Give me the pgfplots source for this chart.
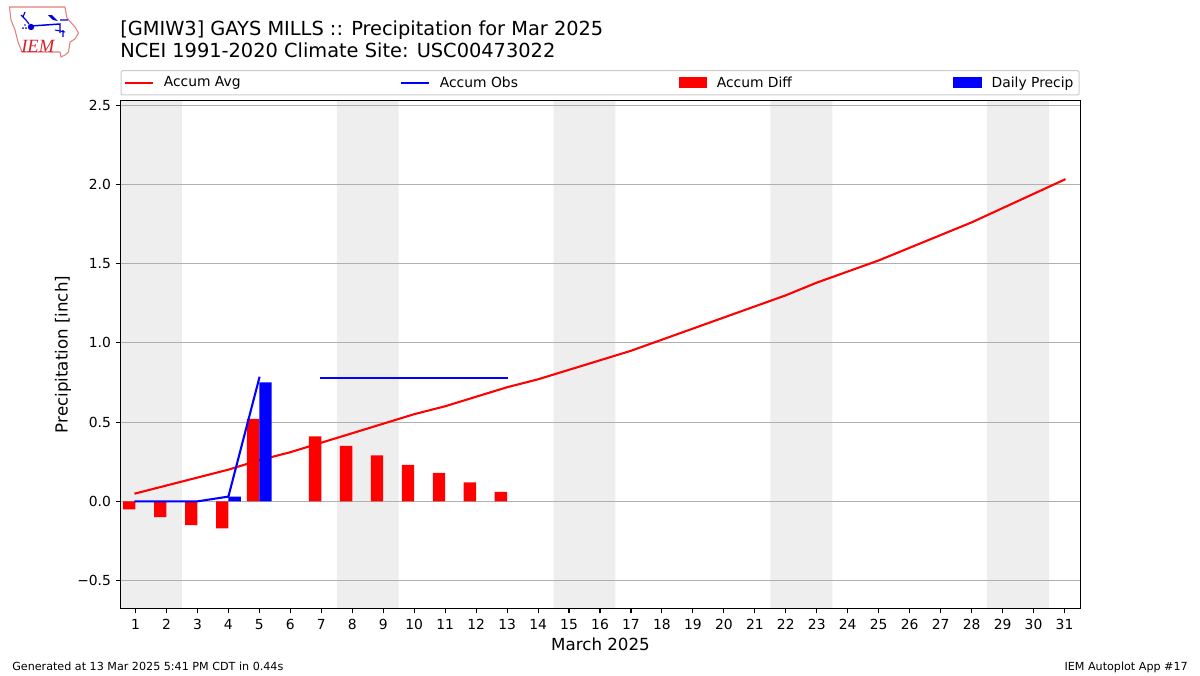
\documentclass[border=0pt]{standalone}
\usepackage{fontspec}
\setmainfont{DejaVu Sans}
\usepackage{pgfplots}
\pgfplotsset{compat=1.18}
\definecolor{band}{HTML}{EEEEEE}
\definecolor{gridc}{HTML}{B0B0B0}
\definecolor{legc}{HTML}{CCCCCC}
\definecolor{logor}{HTML}{E57F7F}
\definecolor{logot}{HTML}{D5222A}
\newcommand{\fs}[1]{\fontsize{#1}{#1}\selectfont}
\begin{document}
\begin{tikzpicture}
% inside this scope one unit = one pixel of the reference
\begin{scope}[x=0.75pt,y=-0.75pt]
\useasboundingbox (0,0) rectangle (1200,675);
% IEM logo
\draw[logor,line width=0.8pt,fill=white] (9.5,7)--(65,7)--(67,18)--(75,27)--(78.5,33)--(75,39)--(70,42)--(68.5,52)--(65,55)--(61,57)--(60,52)--(22,52)--(18,42)--(15,30)--(11,20)--cycle;
\fill[blue!85!black] (31,27) circle[radius=3.2];
\draw[blue!85!black,line width=1.1pt] (31,26)--(60,24)--(60,33);
\draw[blue!85!black,line width=0.9pt] (21,15)--(26,20)--(29,24) (25,12)--(23,17);
\fill[blue!85!black] (48,15)--(52,15)--(58,21)--(53,20)--cycle;
\draw[blue!85!black,line width=0.8pt] (60,20)--(68,20) (55,30)--(65,32) (63,30)--(63,37);
\fill[blue!85!black] (23,28) circle[radius=1] (26,28) circle[radius=1] (25,25) circle[radius=0.9];
\node[anchor=base west,inner sep=0pt,text=logot] at (21,52) {\fontspec{Liberation Serif}\fs{14}\itshape IEM};
% titles
\node[anchor=base west,inner sep=0pt] at (120,35) {\fs{14.53}[GMIW3] GAYS MILLS :: Precipitation for Mar 2025};
\node[anchor=base west,inner sep=0pt] at (120,57) {\fs{14.53}NCEI 1991-2020 Climate Site: USC00473022};
% footer
\node[anchor=base west,inner sep=0pt] at (12,670) {\fs{8.36}Generated at 13 Mar 2025 5:41 PM CDT in 0.44s};
\node[anchor=base east,inner sep=0pt] at (1188,670) {\fs{8.36}IEM Autoplot App \#17};
\end{scope}
\begin{axis}[
    set layers,
    at={(90.375pt,-456.375pt)},anchor=south west,
    scale only axis,
    width=720pt,height=381pt,
    xmin=0.516,xmax=31.516,
    ymin=-0.676,ymax=2.529,
    xtick={1,2,...,31},
    ytick={-0.5,0,0.5,1,1.5,2,2.5},
    yticklabels={−0.5,0.0,0.5,1.0,1.5,2.0,2.5},
    xtick pos=bottom,ytick pos=left,
    tick align=outside,
    major tick length=3.65pt,
    tick style={black,line width=0.83pt},
    axis line style={black,line width=0.83pt},
    ymajorgrids,
    grid style={gridc,line width=0.83pt},
    /pgf/number format/assume math mode=true,
    tick label style={font=\fs{10.4}},
    xticklabel style={yshift=-1.2pt},
    xlabel={March 2025},
    ylabel={Precipitation [inch]},
    label style={font=\fs{12.5}},
    xlabel style={at={(axis description cs:0.5,0)},anchor=base,yshift=-31.2pt},
    ylabel style={at={(axis description cs:0,0.5)},anchor=base,yshift=39.75pt},
    legend columns=4,
    legend style={at={(0,1.0099)},anchor=south west,
        draw=legc,line width=0.8pt,rounded corners=1.5pt,
        font=\fs{10.4},inner xsep=2.25pt,inner ysep=2.4pt},
    legend cell align=left,
]
% legend entries, in the reference's order
\addlegendimage{legend image code/.code={\draw[red,line width=1.56pt,sharp corners] (0,0)--(21pt,0);}}
\addlegendentry{\makebox[180.5pt][l]{\hspace*{5.25pt}Accum Avg\vphantom{Ag}}}
\addlegendimage{legend image code/.code={\draw[blue,line width=1.56pt,sharp corners] (0,0)--(21pt,0);}}
\addlegendentry{\makebox[182.25pt][l]{\hspace*{5.25pt}Accum Obs\vphantom{Ag}}}
\addlegendimage{legend image code/.code={\fill[red,sharp corners] (0,-3.6pt) rectangle (21pt,3.6pt);}}
\addlegendentry{\makebox[180.75pt][l]{\hspace*{5.25pt}Accum Diff\vphantom{Ag}}}
\addlegendimage{legend image code/.code={\fill[blue,sharp corners] (0,-3.6pt) rectangle (21pt,3.6pt);}}
\addlegendentry{\hspace*{5.25pt}Daily Precip\vphantom{Ag}}
% weekend bands
\addplot[on layer=axis background,fill=band,draw=none,forget plot] coordinates {(0.5,-0.676)(2.5,-0.676)(2.5,2.529)(0.5,2.529)(0.5,-0.676)};
\addplot[on layer=axis background,fill=band,draw=none,forget plot] coordinates {(7.5,-0.676)(9.5,-0.676)(9.5,2.529)(7.5,2.529)(7.5,-0.676)};
\addplot[on layer=axis background,fill=band,draw=none,forget plot] coordinates {(14.5,-0.676)(16.5,-0.676)(16.5,2.529)(14.5,2.529)(14.5,-0.676)};
\addplot[on layer=axis background,fill=band,draw=none,forget plot] coordinates {(21.5,-0.676)(23.5,-0.676)(23.5,2.529)(21.5,2.529)(21.5,-0.676)};
\addplot[on layer=axis background,fill=band,draw=none,forget plot] coordinates {(28.5,-0.676)(30.5,-0.676)(30.5,2.529)(28.5,2.529)(28.5,-0.676)};
% accum avg
\addplot[red,line width=1.56pt,line cap=rect,forget plot] coordinates {
(1,0.05)(2,0.10)(3,0.15)(4,0.20)(5,0.26)(6,0.31)(7,0.37)(8,0.43)(9,0.49)(10,0.55)
(11,0.60)(12,0.66)(13,0.72)(14,0.77)(15,0.83)(16,0.89)(17,0.95)(18,1.02)(19,1.09)(20,1.16)
(21,1.23)(22,1.30)(23,1.38)(24,1.45)(25,1.52)(26,1.60)(27,1.68)(28,1.76)(29,1.85)(30,1.94)(31,2.03)};
% accum diff
\addplot[ybar,bar width=0.4,bar shift=-0.2,fill=red,draw=none,forget plot] coordinates {
(1,-0.05)(2,-0.10)(3,-0.15)(4,-0.17)(5,0.52)(7,0.41)(8,0.35)(9,0.29)(10,0.23)(11,0.18)(12,0.12)(13,0.06)};
% daily precip
\addplot[ybar,bar width=0.4,bar shift=0.2,fill=blue,draw=none,forget plot] coordinates {(4,0.03)(5,0.75)};
% accum obs
\addplot[blue,line width=1.56pt,line cap=rect,forget plot] coordinates {(1,0)(2,0)(3,0)(4,0.03)(5,0.78)};
\addplot[blue,line width=1.56pt,line cap=rect,forget plot] coordinates {(7,0.78)(8,0.78)(9,0.78)(10,0.78)(11,0.78)(12,0.78)(13,0.78)};
\end{axis}
\end{tikzpicture}
\end{document}
